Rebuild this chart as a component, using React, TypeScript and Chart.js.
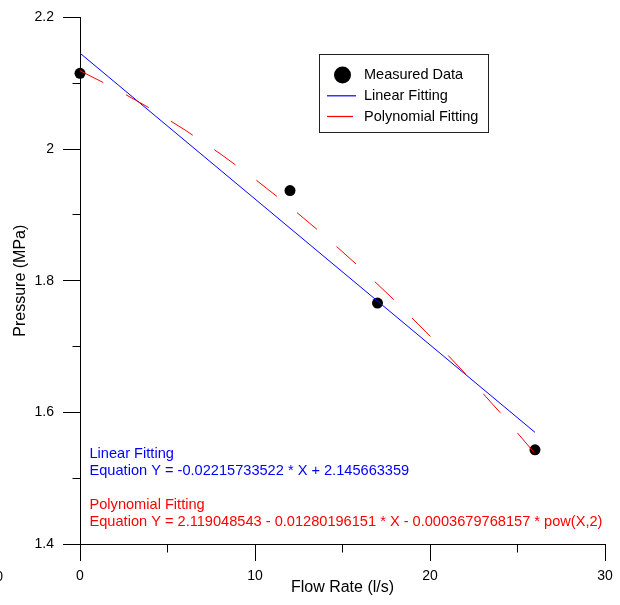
import React, { useEffect, useRef } from 'react';
import { Chart, registerables } from 'chart.js';

Chart.register(...registerables);

const measuredX = [0, 12, 17, 26];
const measuredY = [2.115, 1.937, 1.766, 1.543];
const linearX = [0, 26];
const linearY = [2.1457, 1.5696];
const polyX = [0, 2, 4, 6, 8, 10, 12, 14, 16, 18, 20, 22, 24, 26];
const polyY = [2.119, 2.0919, 2.0619, 2.029, 1.9931, 1.9542, 1.9124, 1.8677, 1.82, 1.7694, 1.7158, 1.6593, 1.5998, 1.5374];
const xTicks = [0, 10, 20, 30];
const xMinorTicks = [5, 15, 25];
const yTicks = [1.4, 1.6, 1.8, 2.0, 2.2];
const yMinorTicks = [1.5, 1.7, 1.9, 2.1];
const seriesNames = ['Measured Data', 'Linear Fitting', 'Polynomial Fitting'];
const linearNote = ['Linear Fitting', 'Equation Y = -0.02215733522 * X + 2.145663359'];
const polyNote = ['Polynomial Fitting', 'Equation Y = 2.119048543 - 0.01280196151 * X - 0.0003679768157 * pow(X,2)'];
const strayLabel = '0';

const FONT = "'Liberation Sans', Arial, sans-serif";

const align = (p: number) => Math.round(p - 0.5) + 0.5;

const extras = {
  id: 'extras',
  afterDraw(chart: any) {
    const { ctx } = chart;
    const xs = chart.scales.x;
    const ys = chart.scales.y;
    ctx.save();
    // minor ticks
    ctx.strokeStyle = '#000';
    ctx.lineWidth = 1;
    ctx.beginPath();
    const by = align(ys.getPixelForValue(yTicks[0]));
    xMinorTicks.forEach((v) => {
      const px = align(xs.getPixelForValue(v));
      ctx.moveTo(px, by);
      ctx.lineTo(px, by + 8);
    });
    const lx = align(xs.getPixelForValue(xTicks[0]));
    yMinorTicks.forEach((v) => {
      const py = align(ys.getPixelForValue(v));
      ctx.moveTo(lx - 8, py);
      ctx.lineTo(lx, py);
    });
    ctx.stroke();

    // legend
    const ds = chart.data.datasets;
    ctx.strokeStyle = '#222';
    ctx.strokeRect(319.5, 54.5, 169, 78);
    ctx.fillStyle = ds[0].backgroundColor;
    ctx.beginPath();
    ctx.arc(342.5, 75, 8.5, 0, Math.PI * 2);
    ctx.fill();
    ctx.lineWidth = 1.2;
    ctx.strokeStyle = ds[1].borderColor;
    ctx.beginPath();
    ctx.moveTo(327, 95.8);
    ctx.lineTo(356, 95.8);
    ctx.stroke();
    ctx.strokeStyle = ds[2].borderColor;
    ctx.beginPath();
    ctx.moveTo(327, 116.5);
    ctx.lineTo(353, 116.5);
    ctx.stroke();
    ctx.fillStyle = '#000';
    ctx.font = `14.5px ${FONT}`;
    ctx.textBaseline = 'middle';
    ctx.textAlign = 'left';
    ctx.fillText(seriesNames[0], 364, 75);
    ctx.fillText(seriesNames[1], 364, 95.5);
    ctx.fillText(seriesNames[2], 364, 116.5);

    // notes
    ctx.font = `14.6px ${FONT}`;
    ctx.fillStyle = ds[1].borderColor;
    ctx.fillText(linearNote[0], 89.5, 453.5);
    ctx.fillText(linearNote[1], 89.5, 470.5);
    ctx.fillStyle = ds[2].borderColor;
    ctx.fillText(polyNote[0], 89.5, 505);
    ctx.fillText(polyNote[1], 89.5, 521.5);

    // stray clipped label
    ctx.fillStyle = '#000';
    ctx.font = `14px ${FONT}`;
    ctx.textAlign = 'right';
    ctx.fillText(strayLabel, 3, 577);
    ctx.restore();
  },
};

export default function App() {
  const ref = useRef<HTMLCanvasElement>(null);
  useEffect(() => {
    if (!ref.current) return;
    const chart = new Chart(ref.current, {
      type: 'scatter',
      data: {
        datasets: [
          {
            label: seriesNames[0],
            data: measuredX.map((x, i) => ({ x, y: measuredY[i] })),
            backgroundColor: '#000',
            borderColor: '#000',
            pointRadius: 5.5,
            pointBorderWidth: 0,
            showLine: false,
            clip: false,
            order: 3,
          },
          {
            label: seriesNames[1],
            data: linearX.map((x, i) => ({ x, y: linearY[i] })),
            borderColor: '#0000ff',
            backgroundColor: '#0000ff',
            borderWidth: 1,
            pointRadius: 0,
            showLine: true,
            clip: false,
            order: 2,
          },
          {
            label: seriesNames[2],
            data: polyX.map((x, i) => ({ x, y: polyY[i] })),
            borderColor: '#ff0000',
            backgroundColor: '#ff0000',
            borderWidth: 1,
            borderDash: [26, 26],
            pointRadius: 0,
            showLine: true,
            tension: 0,
            clip: false,
            order: 1,
          },
        ],
      },
      options: {
        responsive: false,
        animation: false,
        layout: { padding: { top: 16, right: 15, left: 0, bottom: 0 } },
        plugins: { legend: { display: false }, tooltip: { enabled: false } },
        scales: {
          x: {
            type: 'linear',
            min: 0,
            max: 30,
            afterBuildTicks: (s: any) => {
              s.ticks = xTicks.map((v) => ({ value: v }));
            },
            afterFit: (s: any) => {
              s.height = 61;
            },
            ticks: { color: '#000', font: { family: FONT, size: 14 }, padding: 7, maxRotation: 0 },
            grid: { drawOnChartArea: false, drawTicks: true, tickLength: 17, tickColor: '#000', tickWidth: 1 },
            border: { display: true, color: '#000', width: 1 },
            title: {
              display: true,
              text: 'Flow Rate (l/s)',
              color: '#000',
              font: { family: FONT, size: 16 },
              padding: { top: 0, bottom: 8 },
            },
          },
          y: {
            type: 'linear',
            min: 1.4,
            max: 2.2,
            afterBuildTicks: (s: any) => {
              s.ticks = yTicks.map((v) => ({ value: v }));
            },
            afterFit: (s: any) => {
              s.width = 80;
            },
            ticks: {
              color: '#000',
              font: { family: FONT, size: 14 },
              padding: 9,
              callback: (v: any) => String(Number(Number(v).toFixed(2))),
            },
            grid: { drawOnChartArea: false, drawTicks: true, tickLength: 17, tickColor: '#000', tickWidth: 1 },
            border: { display: true, color: '#000', width: 1 },
            title: {
              display: true,
              text: 'Pressure (MPa)',
              color: '#000',
              font: { family: FONT, size: 16 },
              padding: { top: 11, bottom: 0 },
            },
          },
        },
      },
      plugins: [extras],
    } as any);
    return () => chart.destroy();
  }, []);
  return (
    <div style={{ position: 'fixed', left: 0, top: 0, width: 620, height: 605, background: '#fff' }}>
      <canvas ref={ref} width={620} height={605} style={{ display: 'block' }} />
    </div>
  );
}
